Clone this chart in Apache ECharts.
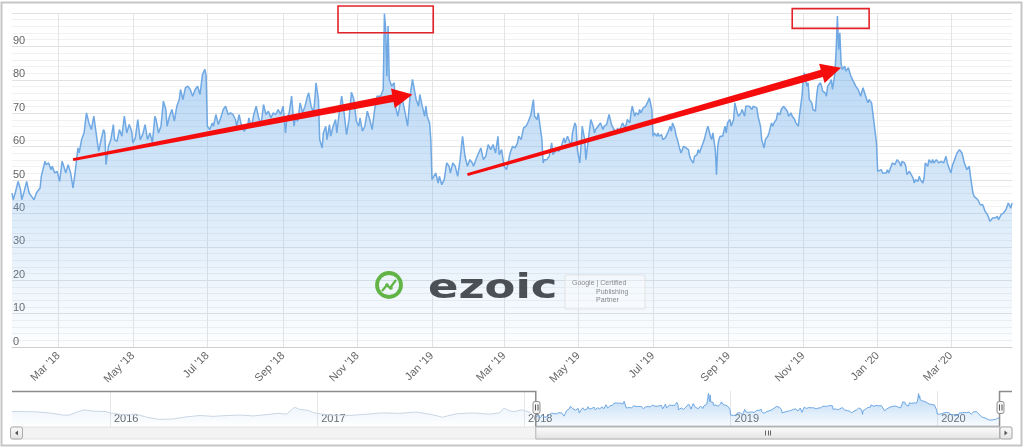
<!DOCTYPE html>
<html>
<head>
<meta charset="utf-8">
<script src="https://cdn.jsdelivr.net/npm/echarts@6/dist/echarts.min.js"></script>
<style>
html,body{margin:0;padding:0;background:#fff;}
#c{width:1024px;height:448px;}
</style>
</head>
<body>
<div id="c"></div>
<script>
// ---------- DATA ----------
const dates = [
'2018-01-22','2018-01-23','2018-01-25','2018-01-27','2018-01-29','2018-01-30','2018-02-01','2018-02-02','2018-02-03','2018-02-05',
'2018-02-07','2018-02-09','2018-02-11','2018-02-14','2018-02-15','2018-02-18','2018-02-19','2018-02-21','2018-02-23','2018-02-24',
'2018-02-26','2018-02-28','2018-03-02','2018-03-04','2018-03-05','2018-03-07','2018-03-09','2018-03-11','2018-03-13','2018-03-15',
'2018-03-17','2018-03-18','2018-03-20','2018-03-22','2018-03-24','2018-03-26','2018-03-28','2018-03-30','2018-03-31','2018-04-02',
'2018-04-03','2018-04-05','2018-04-07','2018-04-08','2018-04-09','2018-04-11','2018-04-13','2018-04-15','2018-04-16','2018-04-18',
'2018-04-20','2018-04-22','2018-04-24','2018-04-26','2018-04-28','2018-04-30','2018-05-01','2018-05-03','2018-05-05','2018-05-07',
'2018-05-09','2018-05-11','2018-05-13','2018-05-15','2018-05-17','2018-05-19','2018-05-20','2018-05-22','2018-05-24','2018-05-26',
'2018-05-28','2018-05-29','2018-05-31','2018-06-02','2018-06-04','2018-06-06','2018-06-08','2018-06-09','2018-06-11','2018-06-13',
'2018-06-15','2018-06-17','2018-06-19','2018-06-21','2018-06-23','2018-06-25','2018-06-27','2018-06-29','2018-06-30','2018-07-01',
'2018-07-03','2018-07-05','2018-07-06','2018-07-08','2018-07-10','2018-07-12','2018-07-14','2018-07-16','2018-07-18','2018-07-20',
'2018-07-22','2018-07-24','2018-07-25','2018-07-27','2018-07-29','2018-07-31','2018-08-03','2018-08-04','2018-08-06','2018-08-08',
'2018-08-10','2018-08-12','2018-08-14','2018-08-16','2018-08-18','2018-08-20','2018-08-22','2018-08-24','2018-08-26','2018-08-28',
'2018-08-30','2018-09-01','2018-09-03','2018-09-04','2018-09-06','2018-09-08','2018-09-10','2018-09-11','2018-09-13','2018-09-15',
'2018-09-17','2018-09-19','2018-09-21','2018-09-22','2018-09-24','2018-09-26','2018-09-27','2018-09-28','2018-09-30','2018-10-01',
'2018-10-03','2018-10-04','2018-10-06','2018-10-07','2018-10-09','2018-10-10','2018-10-12','2018-10-14','2018-10-15','2018-10-17',
'2018-10-19','2018-10-21','2018-10-23','2018-10-25','2018-10-27','2018-10-29','2018-10-31','2018-11-02','2018-11-03','2018-11-05',
'2018-11-07','2018-11-09','2018-11-11','2018-11-13','2018-11-15','2018-11-17','2018-11-18','2018-11-20','2018-11-22','2018-11-23',
'2018-11-24','2018-11-25','2018-11-26','2018-11-27','2018-11-29','2018-12-01','2018-12-02','2018-12-04','2018-12-06','2018-12-08',
'2018-12-10','2018-12-12','2018-12-14','2018-12-16','2018-12-17','2018-12-19','2018-12-21','2018-12-22','2018-12-24','2018-12-26',
'2018-12-27','2018-12-28','2018-12-30','2018-12-31','2019-01-01','2019-01-02','2019-01-04','2019-01-06','2019-01-07','2019-01-09',
'2019-01-11','2019-01-13','2019-01-15','2019-01-16','2019-01-18','2019-01-20','2019-01-22','2019-01-24','2019-01-26','2019-01-28',
'2019-01-30','2019-02-01','2019-02-03','2019-02-04','2019-02-07','2019-02-08','2019-02-10','2019-02-12','2019-02-14','2019-02-16',
'2019-02-18','2019-02-20','2019-02-22','2019-02-24','2019-02-25','2019-02-27','2019-03-01','2019-03-03','2019-03-04','2019-03-06',
'2019-03-08','2019-03-10','2019-03-12','2019-03-13','2019-03-15','2019-03-17','2019-03-19','2019-03-21','2019-03-22','2019-03-23',
'2019-03-25','2019-03-26','2019-03-28','2019-03-29','2019-03-30','2019-04-01','2019-04-02','2019-04-03','2019-04-05','2019-04-07',
'2019-04-09','2019-04-10','2019-04-11','2019-04-13','2019-04-15','2019-04-17','2019-04-19','2019-04-20','2019-04-22','2019-04-23',
'2019-04-25','2019-04-26','2019-04-28','2019-04-29','2019-04-30','2019-05-02','2019-05-03','2019-05-04','2019-05-06','2019-05-07',
'2019-05-09','2019-05-11','2019-05-13','2019-05-14','2019-05-15','2019-05-17','2019-05-18','2019-05-19','2019-05-21','2019-05-22',
'2019-05-24','2019-05-25','2019-05-26','2019-05-28','2019-05-29','2019-05-30','2019-06-01','2019-06-02','2019-06-03','2019-06-05',
'2019-06-06','2019-06-08','2019-06-09','2019-06-10','2019-06-12','2019-06-13','2019-06-14','2019-06-16','2019-06-17','2019-06-19',
'2019-06-20','2019-06-21','2019-06-23','2019-06-24','2019-06-25','2019-06-27','2019-06-28','2019-06-30','2019-07-01','2019-07-02',
'2019-07-04','2019-07-05','2019-07-06','2019-07-08','2019-07-09','2019-07-11','2019-07-12','2019-07-13','2019-07-15','2019-07-16',
'2019-07-17','2019-07-19','2019-07-20','2019-07-21','2019-07-23','2019-07-24','2019-07-26','2019-07-27','2019-07-28','2019-07-30',
'2019-07-31','2019-08-01','2019-08-03','2019-08-04','2019-08-06','2019-08-07','2019-08-08','2019-08-10','2019-08-11','2019-08-12',
'2019-08-14','2019-08-15','2019-08-17','2019-08-18','2019-08-19','2019-08-21','2019-08-22','2019-08-23','2019-08-24','2019-08-25',
'2019-08-27','2019-08-29','2019-08-30','2019-08-31','2019-09-02','2019-09-03','2019-09-05','2019-09-06','2019-09-08','2019-09-09',
'2019-09-11','2019-09-12','2019-09-14','2019-09-15','2019-09-16','2019-09-18','2019-09-20','2019-09-21','2019-09-22','2019-09-24',
'2019-09-25','2019-09-27','2019-09-28','2019-09-30','2019-10-01','2019-10-03','2019-10-04','2019-10-06','2019-10-07','2019-10-08',
'2019-10-10','2019-10-11','2019-10-13','2019-10-14','2019-10-16','2019-10-17','2019-10-19','2019-10-20','2019-10-22','2019-10-23',
'2019-10-25','2019-10-26','2019-10-28','2019-10-29','2019-10-31','2019-11-01','2019-11-02','2019-11-04','2019-11-05','2019-11-06',
'2019-11-08','2019-11-09','2019-11-11','2019-11-12','2019-11-13','2019-11-15','2019-11-16','2019-11-17','2019-11-19','2019-11-20',
'2019-11-21','2019-11-23','2019-11-24','2019-11-25','2019-11-27','2019-11-28','2019-11-29','2019-11-30','2019-12-01','2019-12-02',
'2019-12-03','2019-12-05','2019-12-06','2019-12-08','2019-12-09','2019-12-10','2019-12-12','2019-12-13','2019-12-14','2019-12-16',
'2019-12-17','2019-12-18','2019-12-20','2019-12-21','2019-12-23','2019-12-24','2019-12-25','2019-12-27','2019-12-28','2019-12-29',
'2019-12-31','2020-01-01','2020-01-02','2020-01-04','2020-01-05','2020-01-06','2020-01-08','2020-01-09','2020-01-10','2020-01-12',
'2020-01-13','2020-01-15','2020-01-16','2020-01-17','2020-01-19','2020-01-20','2020-01-21','2020-01-23','2020-01-24','2020-01-25',
'2020-01-27','2020-01-28','2020-01-30','2020-01-31','2020-02-01','2020-02-03','2020-02-04','2020-02-05','2020-02-07','2020-02-08',
'2020-02-09','2020-02-11','2020-02-12','2020-02-14','2020-02-15','2020-02-16','2020-02-18','2020-02-19','2020-02-20','2020-02-22',
'2020-02-23','2020-02-24','2020-02-26','2020-02-27','2020-02-29','2020-03-01','2020-03-02','2020-03-04','2020-03-05','2020-03-06',
'2020-03-08','2020-03-09','2020-03-10','2020-03-12','2020-03-13','2020-03-14','2020-03-16','2020-03-17','2020-03-19','2020-03-20',
'2020-03-21','2020-03-23','2020-03-24','2020-03-25','2020-03-27','2020-03-28','2020-03-29','2020-03-31','2020-04-01','2020-04-02',
'2020-04-04','2020-04-05','2020-04-06','2020-04-08','2020-04-09','2020-04-11','2020-04-12','2020-04-13','2020-04-15','2020-04-16',
'2020-04-17','2020-04-19','2020-04-20'
];
const values = [
46.1,44.1,46.6,49.6,47.1,44.1,46.6,46.1,49.6,46.1,
45.1,44.1,46.1,47.6,51.1,55.6,54.6,55.1,53.1,54.1,
52.1,52.6,49.6,55.6,54.6,52.1,54.6,52.1,47.6,53.1,
59.6,58.1,62.1,64.1,70.1,67.1,65.1,69.1,68.6,61.1,
58.6,62.1,65.1,64.1,54.6,60.1,62.1,66.6,62.1,61.6,
65.1,63.1,69.1,64.1,66.6,64.6,61.1,62.6,68.1,62.1,
63.6,66.6,62.1,64.1,61.1,69.1,68.1,64.1,66.1,73.6,
71.1,66.1,69.1,71.1,67.6,72.1,74.1,77.1,74.1,77.6,
78.1,77.1,75.1,77.1,78.1,75.6,81.6,83.1,81.1,66.1,
65.1,67.1,66.1,69.6,66.6,68.6,71.1,72.1,69.6,70.1,
69.6,68.1,66.1,69.6,66.1,64.6,66.1,68.6,65.6,69.6,
72.1,68.6,66.6,72.6,69.6,70.6,68.6,70.1,69.6,71.1,
69.6,72.1,64.1,68.1,70.1,75.1,66.1,68.6,67.6,73.1,
70.1,72.1,75.1,76.1,72.1,70.1,74.1,79.1,74.1,62.1,
59.6,64.1,66.1,62.1,66.6,63.1,66.1,68.1,64.1,70.1,
75.1,70.1,63.6,68.1,76.3,74.1,67.6,66.1,68.6,64.6,
66.1,70.6,68.1,65.1,71.1,75.1,75.6,75.1,77.1,99.8,
95.6,81.1,96.1,80.1,78.1,79.1,72.1,69.1,73.1,73.6,
70.1,66.1,75.1,80.1,78.1,74.1,72.1,75.6,72.1,69.1,
72.1,69.1,67.1,62.1,50.1,49.6,52.1,49.1,51.1,48.6,
50.1,55.1,54.1,52.1,55.1,54.1,51.1,56.1,63.1,57.1,
54.1,56.1,55.1,54.1,57.1,57.1,59.6,56.1,57.1,60.6,
59.1,60.6,58.1,63.1,57.6,59.1,54.1,53.1,54.6,58.1,
60.1,59.6,61.1,63.1,62.1,65.6,66.1,67.6,67.1,69.6,
74.1,69.1,68.1,70.1,70.6,62.1,55.1,56.1,56.1,57.1,
61.1,57.6,58.1,59.1,58.6,60.1,62.6,61.1,63.1,62.1,
60.1,64.1,67.1,66.1,59.1,55.1,60.1,66.1,62.1,56.1,
62.1,68.1,66.1,64.1,65.1,66.1,65.6,67.1,65.1,66.1,
66.6,68.1,69.6,66.6,67.1,65.1,64.1,65.6,64.6,66.1,
67.1,65.6,66.6,68.1,67.1,70.1,72.1,69.1,70.1,69.6,
71.1,70.1,71.6,71.1,72.1,73.6,74.6,71.1,63.1,64.1,
63.1,64.1,63.1,63.6,62.1,62.6,62.6,64.1,66.1,64.6,
67.1,65.1,63.1,62.1,59.1,58.1,60.1,60.1,59.6,59.1,
57.1,56.1,55.1,57.1,57.6,59.1,58.1,60.1,61.1,62.1,
65.1,66.1,63.1,62.1,64.1,59.1,51.6,60.1,62.1,63.1,
63.1,66.1,64.1,67.1,68.1,66.1,68.1,73.1,70.1,69.1,
70.1,71.1,69.1,72.1,71.6,72.1,71.1,72.1,72.1,71.6,
69.1,66.1,62.1,59.6,62.1,63.1,64.1,67.1,66.1,67.1,
68.1,70.1,69.6,71.1,72.1,71.6,70.6,69.1,70.1,69.1,
68.1,67.1,66.1,69.6,75.1,80.1,82.1,78.1,79.1,74.1,
73.1,71.1,70.6,75.1,78.1,79.1,78.1,76.6,76.1,75.1,
78.1,79.1,80.1,77.1,82.1,89.1,99.1,89.1,94.1,85.1,
83.1,84.1,82.6,83.6,83.1,81.1,79.6,80.1,78.1,77.1,
76.1,75.1,77.6,78.1,74.1,73.1,74.1,73.1,70.1,70.1,
61.1,52.6,52.1,53.1,52.1,52.6,52.1,53.1,52.1,54.1,
55.1,54.6,54.1,56.1,55.1,54.1,55.6,55.1,54.1,51.6,
52.6,52.1,50.6,49.1,50.1,49.6,51.1,50.1,49.1,50.6,
55.1,54.1,56.1,55.1,56.1,55.1,56.1,55.6,55.1,55.6,
56.1,55.1,57.1,55.1,53.1,52.1,54.1,56.1,57.1,58.1,
59.1,58.6,58.1,55.1,54.1,53.1,54.1,51.1,46.1,45.1,
44.6,44.1,43.6,42.6,42.6,41.6,40.6,39.6,39.1,37.6,
38.6,39.1,38.6,39.1,38.1,39.6,39.1,40.1,41.1,42.1,
43.1,41.6,43.1
];
// earlier history, only visible in the navigator
const earlyDates = [
'2015-07-12','2015-08-05','2015-08-28','2015-09-22','2015-10-10','2015-10-21','2015-11-02','2015-11-16','2015-12-02','2015-12-25',
'2016-01-01','2016-01-23','2016-02-17','2016-03-06','2016-03-29','2016-04-21','2016-05-16','2016-06-08','2016-07-01','2016-07-26',
'2016-08-18','2016-09-10','2016-10-04','2016-10-24','2016-11-08','2016-11-22','2016-12-01','2016-12-15','2016-12-27','2017-01-10',
'2017-01-28','2017-02-27','2017-03-29','2017-04-26','2017-05-26','2017-06-25','2017-07-23','2017-08-10','2017-09-04','2017-10-02',
'2017-11-01','2017-11-19','2017-11-27','2017-12-06','2017-12-15','2017-12-28','2018-01-10'
];
const earlyValues = [
58,58,57,54,50,50,56,62,59,58,
55,51,52,45,40,41,46,49,47,49,
50,48,51,54,52,68,63,61,55,52,
50,49,52,55,54,57,51,45,53,55,
52,55,66,60,58,62,57
];
const monthTicks = ['2018-03-01','2018-05-01','2018-07-01','2018-09-01','2018-11-01','2019-01-01','2019-03-01',
                    '2019-05-01','2019-07-01','2019-09-01','2019-11-01','2020-01-01','2020-03-01'];
const yearTicks = ['2016-01-01','2017-01-01','2018-01-01','2019-01-01','2020-01-01'];
const monthNames = ['Jan','Feb','Mar','Apr','May','Jun','Jul','Aug','Sep','Oct','Nov','Dec'];
const viewRange = ['2018-01-22','2020-04-20'];
const navRange = ['2015-07-12','2020-05-12'];
// annotations (data coordinates)
const arrowTails = [['2018-03-13',56.1],['2019-01-30',51.6]];
const arrowTips  = [['2018-12-16',75.6],['2019-12-02',83.6]];
const boxStarts  = [['2018-10-16',102.1],['2019-10-23',101.3]];
const boxEnds    = [['2019-01-02',94.1],['2019-12-25',95.4]];

// ---------- CHART ----------
function t(s){const p=s.split('-').map(Number);return new Date(p[0],p[1]-1,p[2]).getTime();}
const mainData = dates.map((d,i)=>[t(d),values[i]]);
const earlyData = earlyDates.map((d,i)=>[t(d),earlyValues[i]]).concat([mainData[0]]);
const FONT = '"Liberation Sans", Arial, Helvetica, sans-serif';
const LINE = '#6fa8e3';
const areaGrad = new echarts.graphic.LinearGradient(0,0,0,1,[
  {offset:0,color:'rgba(124,181,236,0.9)'},{offset:1,color:'rgba(124,181,236,0.02)'}]);
const navGrad = new echarts.graphic.LinearGradient(0,0,0,1,[
  {offset:0,color:'rgba(124,181,236,0.75)'},{offset:1,color:'rgba(124,181,236,0.08)'}]);
const fadeGrad = new echarts.graphic.LinearGradient(0,0,0,1,[
  {offset:0,color:'rgba(124,181,236,0.18)'},{offset:1,color:'rgba(124,181,236,0.02)'}]);

const chart = echarts.init(document.getElementById('c'), null, {renderer:'canvas'});
const option = {
  animation:false,
  backgroundColor:'#ffffff',
  textStyle:{fontFamily:FONT},
  grid:[
    {left:12,right:12,top:13,height:334,outerBoundsMode:'none',containLabel:false},
    {left:12,right:12,top:391,height:35,outerBoundsMode:'none',containLabel:false}
  ],
  xAxis:[
    {type:'value',gridIndex:0,min:t(viewRange[0]),max:t(viewRange[1]),scale:true,
     axisLine:{show:true,onZero:false,lineStyle:{color:'#cfcfcf',width:1}},
     axisTick:{show:false,customValues:monthTicks.map(t)},
     axisLabel:{customValues:monthTicks.map(t),rotate:45,margin:7,color:'#666',fontSize:11,fontFamily:FONT,
       formatter:function(v){const d=new Date(v);return monthNames[d.getMonth()]+" '"+String(d.getFullYear()).slice(2);}},
     splitLine:{show:true,lineStyle:{color:'#e4e4e4',width:1}}},
    {type:'value',gridIndex:1,min:t(navRange[0]),max:t(navRange[1]),scale:true,
     axisLine:{show:false},
     axisTick:{show:false,customValues:yearTicks.map(t)},
     axisLabel:{customValues:yearTicks.map(t),inside:true,margin:2,align:'left',verticalAlign:'bottom',
       padding:[0,0,0,4],color:'#666',fontSize:11,fontFamily:FONT,
       formatter:function(v){return String(new Date(v).getFullYear());}},
     splitLine:{show:true,lineStyle:{color:'#e6e6e6',width:1}}}
  ],
  yAxis:[
    {type:'value',gridIndex:0,min:0,max:100,interval:10,
     axisLine:{show:false},axisTick:{show:false},
     axisLabel:{inside:true,margin:1,verticalAlign:'bottom',color:'#666',fontSize:11,fontFamily:FONT,showMaxLabel:false},
     splitLine:{show:true,lineStyle:{color:'#e2e2e2',width:1}},
     minorTick:{show:false,splitNumber:5},
     minorSplitLine:{show:true,lineStyle:{color:'#f1f1f1',width:1}}},
    {type:'value',gridIndex:1,min:25,max:105,show:false,splitLine:{show:false}}
  ],
  series:[
    {name:'main',type:'line',xAxisIndex:0,yAxisIndex:0,data:mainData,showSymbol:false,symbol:'none',
     lineStyle:{color:LINE,width:1.5},areaStyle:{color:areaGrad},z:2,silent:true},
    {name:'navFaded',type:'line',xAxisIndex:1,yAxisIndex:1,data:earlyData,showSymbol:false,symbol:'none',
     lineStyle:{color:'#cad7e4',width:1},areaStyle:{color:fadeGrad},z:2,silent:true},
    {name:'navSelected',type:'line',xAxisIndex:1,yAxisIndex:1,data:mainData,showSymbol:false,symbol:'none',
     lineStyle:{color:LINE,width:1},areaStyle:{color:navGrad},z:2,silent:true}
  ]
};
chart.setOption(option);

// ---------- overlays positioned through the axes ----------
const xL = chart.convertToPixel({xAxisIndex:1}, t(viewRange[0]));
const xR = chart.convertToPixel({xAxisIndex:1}, t(viewRange[1]));
const navL = 12, navR = 1012, navTop = 391, navBot = 426.5;
const els = [];

els.push({type:'rect',shape:{x:1.5,y:2.5,width:1020,height:443},style:{fill:null,stroke:'#c6c6c6',lineWidth:2},z:100});

els.push({type:'polyline',shape:{points:[[navL,navTop+0.5],[xL,navTop+0.5],[xL,navBot],[xR,navBot],[xR,navTop+0.5],[navR,navTop+0.5]]},
  style:{stroke:'#8c8c8c',lineWidth:1.5,fill:null},z:100});

const sbY = 427, sbH = 12;
els.push({type:'rect',shape:{x:navL,y:sbY,width:navR-navL,height:sbH},style:{fill:'#f3f3f3',stroke:'#e1e1e1',lineWidth:1},z:100});
els.push({type:'rect',shape:{x:xL,y:sbY,width:xR-xL,height:sbH},
  style:{fill:new echarts.graphic.LinearGradient(0,0,0,1,[{offset:0,color:'#fdfdfd'},{offset:1,color:'#e2e2e2'}]),stroke:'#b3b3b3',lineWidth:1},z:101});
const cx = (xL+xR)/2;
[-2.5,0,2.5].forEach(function(o){
  els.push({type:'line',shape:{x1:Math.round(cx+o)+0.5,y1:sbY+3.5,x2:Math.round(cx+o)+0.5,y2:sbY+8.5},style:{stroke:'#666',lineWidth:1},z:102});
});
function button(x, dir){
  els.push({type:'rect',shape:{x:x,y:sbY,width:12,height:sbH,r:2},
    style:{fill:new echarts.graphic.LinearGradient(0,0,0,1,[{offset:0,color:'#fafafa'},{offset:1,color:'#e4e4e4'}]),stroke:'#a9a9a9',lineWidth:1},z:102});
  const mx = x+6, my = sbY+6;
  const pts = dir<0 ? [[mx+1.5,my-2.5],[mx+1.5,my+2.5],[mx-1.5,my]] : [[mx-1.5,my-2.5],[mx-1.5,my+2.5],[mx+1.5,my]];
  els.push({type:'polygon',shape:{points:pts},style:{fill:'#555'},z:103});
}
button(navL-1.5,-1);
button(navR-12,1);

function handle(x){
  els.push({type:'rect',shape:{x:x-3.5,y:401.5,width:7,height:12,r:2},style:{fill:'#f4f4f4',stroke:'#8f8f8f',lineWidth:1},z:104});
  els.push({type:'line',shape:{x1:x-1,y1:404.5,x2:x-1,y2:410.5},style:{stroke:'#555',lineWidth:1},z:105});
  els.push({type:'line',shape:{x1:x+1.5,y1:404.5,x2:x+1.5,y2:410.5},style:{stroke:'#555',lineWidth:1},z:105});
}
handle(Math.round(xL)+0.5);
handle(Math.round(xR)+0.5);

function px(p){return chart.convertToPixel({gridIndex:0},[t(p[0]),p[1]]);}
function arrowPoly(p0,p1,w0,w1,headLen,headW){
  const dx=p1[0]-p0[0], dy=p1[1]-p0[1], L=Math.hypot(dx,dy), ux=dx/L, uy=dy/L, nx=-uy, ny=ux;
  const bx=p1[0]-ux*headLen, by=p1[1]-uy*headLen;
  return [[p0[0]+nx*w0/2,p0[1]+ny*w0/2],[bx+nx*w1/2,by+ny*w1/2],[bx+nx*headW/2,by+ny*headW/2],[p1[0],p1[1]],
          [bx-nx*headW/2,by-ny*headW/2],[bx-nx*w1/2,by-ny*w1/2],[p0[0]-nx*w0/2,p0[1]-ny*w0/2]];
}
arrowTails.forEach(function(a,i){
  els.push({type:'polygon',shape:{points:arrowPoly(px(a),px(arrowTips[i]),2.8,7.5,20,20)},style:{fill:'#f50c0c'},z:110});
});
boxStarts.forEach(function(b,i){
  const p0=px(b), p1=px(boxEnds[i]);
  els.push({type:'rect',shape:{x:Math.min(p0[0],p1[0]),y:Math.min(p0[1],p1[1]),width:Math.abs(p1[0]-p0[0]),height:Math.abs(p1[1]-p0[1])},
    style:{fill:null,stroke:'#e2242a',lineWidth:1.6},z:110});
});

els.push({type:'group',z:95,children:[
  {type:'circle',shape:{cx:389,cy:285,r:12},style:{fill:null,stroke:'#62b447',lineWidth:3.8},z:95},
  {type:'polyline',shape:{points:[[382,291],[387,285],[390,288],[396,280]]},style:{stroke:'#62b447',lineWidth:2.2,fill:null},z:95},
  {type:'circle',shape:{cx:387,cy:285,r:1.8},style:{fill:'#62b447'},z:95},
  {type:'circle',shape:{cx:391,cy:288,r:1.8},style:{fill:'#62b447'},z:95},
  {type:'text',x:428,y:289,scaleX:1.36,style:{text:'ezoic',fontSize:33,fontWeight:'bold',fontFamily:'"DejaVu Sans", sans-serif',
     fill:'#3c4146',opacity:0.92,verticalAlign:'middle',align:'left'},z:95},
  {type:'rect',shape:{x:565,y:275,width:80,height:34,r:1},style:{fill:'rgba(255,255,255,0.35)',stroke:'#e2e2e2',lineWidth:1},z:95},
  {type:'text',x:572,y:283,style:{text:'Google | Certified',fontSize:7,fill:'#8a8a8a',fontFamily:FONT,verticalAlign:'middle'},z:95},
  {type:'text',x:596,y:292,style:{text:'Publishing',fontSize:7,fill:'#8a8a8a',fontFamily:FONT,verticalAlign:'middle'},z:95},
  {type:'text',x:596,y:300,style:{text:'Partner',fontSize:7,fill:'#8a8a8a',fontFamily:FONT,verticalAlign:'middle'},z:95}
]});

chart.setOption({graphic:{elements:els}});
</script>
</body>
</html>
